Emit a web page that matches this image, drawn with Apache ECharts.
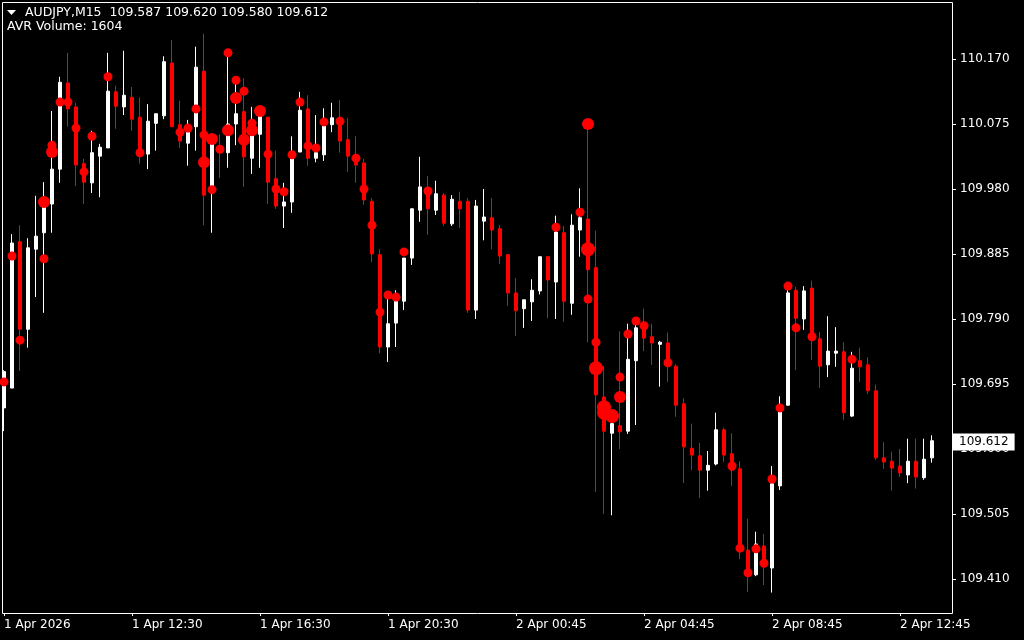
<!DOCTYPE html>
<html><head><meta charset="utf-8">
<script src="https://cdn.jsdelivr.net/npm/echarts@6/dist/echarts.min.js"></script>
<style>html,body{margin:0;padding:0;background:#000;}#c{width:1024px;height:640px;}</style>
</head><body><div id="c"></div>
<script>
const symbolName = 'AUDJPY,M15';
const indicatorText = 'AVR Volume: 1604';

const opens = [
109.660,109.689,109.903,109.775,109.892,109.916,109.958,110.009,110.135,110.100,
110.017,109.989,110.028,110.040,110.122,110.100,110.114,110.085,110.031,110.076,
110.087,110.164,110.074,110.047,110.071,110.152,109.983,110.043,110.033,110.075,
110.093,110.025,110.060,110.085,109.995,109.955,109.961,110.034,110.097,110.025,
110.030,110.074,110.079,110.052,110.024,110.018,109.962,109.884,109.749,109.784,
109.816,109.879,109.949,109.977,109.949,109.971,109.929,109.962,109.962,109.803,
109.933,109.938,109.922,109.884,109.828,109.805,109.815,109.831,109.881,109.844,
109.916,109.813,109.920,109.936,109.865,109.676,109.623,109.634,109.626,109.729,
109.780,109.764,109.753,109.755,109.721,109.666,109.601,109.590,109.569,109.578,
109.628,109.593,109.571,109.452,109.416,109.458,109.426,109.546,109.664,109.832,
109.790,109.835,109.761,109.723,109.740,109.742,109.648,109.729,109.723,109.685,
109.587,109.582,109.575,109.562,109.582,109.558,109.587];
const closes = [
109.713,109.901,109.775,109.894,109.911,109.961,110.009,110.136,110.097,110.015,
109.990,110.033,110.041,110.123,110.101,110.117,110.082,110.033,110.079,110.090,
110.166,110.071,110.050,110.063,110.158,109.971,110.047,110.034,110.075,110.090,
110.027,110.076,110.088,109.990,109.955,109.961,110.027,110.095,110.025,110.033,
110.072,110.084,110.050,110.028,110.015,109.964,109.885,109.749,109.783,109.816,
109.879,109.951,109.983,109.951,109.973,109.930,109.965,109.951,109.803,109.955,
109.939,109.920,109.882,109.828,109.802,109.818,109.832,109.881,109.847,109.917,
109.816,109.927,109.938,109.862,109.679,109.626,109.637,109.625,109.731,109.777,
109.762,109.755,109.756,109.726,109.664,109.603,109.591,109.569,109.576,109.628,
109.591,109.569,109.455,109.419,109.461,109.432,109.549,109.660,109.828,109.791,
109.831,109.764,109.721,109.743,109.743,109.653,109.718,109.720,109.685,109.587,
109.581,109.572,109.565,109.582,109.559,109.585,109.612];
const highs = [
109.715,109.914,109.927,109.908,109.970,109.990,110.094,110.144,110.179,110.106,
110.024,110.065,110.046,110.179,110.131,110.182,110.129,110.114,110.104,110.090,
110.174,110.198,110.109,110.081,110.188,110.207,110.057,110.060,110.179,110.139,
110.142,110.100,110.100,110.085,110.036,109.989,110.057,110.122,110.117,110.088,
110.098,110.106,110.110,110.084,110.057,110.024,109.967,109.892,109.825,109.832,
109.879,109.952,110.027,109.999,109.992,109.974,109.971,109.976,109.967,109.964,
109.980,109.967,109.927,109.885,109.850,109.818,109.848,109.881,109.881,109.941,
109.926,109.943,109.981,110.075,109.919,109.721,109.657,109.772,109.783,109.783,
109.805,109.783,109.758,109.770,109.724,109.674,109.637,109.609,109.597,109.653,
109.631,109.623,109.582,109.498,109.479,109.476,109.575,109.677,109.832,109.837,
109.838,109.846,109.771,109.794,109.778,109.756,109.742,109.748,109.734,109.694,
109.610,109.596,109.600,109.615,109.615,109.615,109.620];
const lows = [
109.626,109.689,109.714,109.748,109.822,109.799,109.916,109.989,110.071,109.984,
109.958,109.974,109.968,110.040,110.068,110.088,110.065,110.017,110.009,110.036,
110.082,110.071,110.040,110.014,110.036,109.927,109.916,109.996,110.011,110.044,
109.983,110.002,110.011,109.958,109.951,109.923,109.945,110.034,110.014,110.019,
110.021,110.063,110.033,110.005,109.989,109.957,109.873,109.740,109.727,109.749,
109.803,109.869,109.932,109.913,109.942,109.926,109.926,109.923,109.799,109.790,
109.905,109.892,109.870,109.809,109.765,109.777,109.787,109.826,109.791,109.790,
109.786,109.796,109.881,109.756,109.537,109.505,109.503,109.600,109.622,109.635,
109.743,109.723,109.691,109.698,109.647,109.550,109.569,109.528,109.539,109.576,
109.581,109.546,109.439,109.391,109.414,109.401,109.390,109.540,109.663,109.715,
109.774,109.730,109.689,109.705,109.720,109.642,109.647,109.698,109.680,109.584,
109.571,109.539,109.559,109.550,109.542,109.555,109.580];

// AVR Volume dots: bar index, price, volume class (1 normal, 2 high, 3 very high)
const dotBars = [0,1,2,5,5,6,6,7,8,9,10,11,13,17,22,23,24,25,25,26,26,27,28,28,29,29,30,30,31,31,32,33,34,35,36,37,38,39,40,42,44,45,46,47,48,49,50,53,69,72,73,73,73,74,74,75,75,76,77,77,78,79,80,83,91,92,93,94,95,96,97,98,99,101,106];
const dotPrices = [109.698,109.882,109.759,109.961,109.878,110.044,110.034,110.107,110.107,110.069,110.005,110.057,110.144,110.033,110.063,110.069,110.097,110.059,110.019,110.053,109.979,110.038,110.179,110.066,110.139,110.113,110.123,110.052,110.076,110.066,110.094,110.031,109.980,109.976,110.030,110.107,110.043,110.040,110.078,110.079,110.025,109.980,109.927,109.800,109.825,109.822,109.888,109.977,109.924,109.946,110.075,109.892,109.819,109.756,109.718,109.661,109.653,109.648,109.705,109.676,109.768,109.787,109.780,109.726,109.575,109.455,109.419,109.454,109.433,109.556,109.660,109.838,109.777,109.764,109.731];
const dotClass = [1,1,1,2,1,1,2,1,1,1,1,1,1,1,1,1,1,1,2,2,1,1,1,2,1,2,1,2,1,2,2,1,1,1,1,1,1,1,1,1,1,1,1,1,1,1,1,1,1,1,2,3,1,1,3,3,3,3,1,2,1,1,1,1,1,1,1,1,1,1,1,1,1,1,1];

const yTicks = [109.410,109.505,109.600,109.695,109.790,109.885,109.980,110.075,110.170];
const tickLabels = {0:'1 Apr 2026',16:'1 Apr 12:30',32:'1 Apr 16:30',48:'1 Apr 20:30',64:'2 Apr 00:45',80:'2 Apr 04:45',96:'2 Apr 08:45',112:'2 Apr 12:45'};
const lastPrice = 109.612;

const months = ['Jan','Feb','Mar','Apr','May','Jun','Jul','Aug','Sep','Oct','Nov','Dec'];
const categories = [];
(function(){
  let t = Date.UTC(2026,3,1,8,30);
  while (categories.length < opens.length) {
    const d = new Date(t);
    const hh = String(d.getUTCHours()).padStart(2,'0'), mm = String(d.getUTCMinutes()).padStart(2,'0');
    const s = d.getUTCDate()+' '+months[d.getUTCMonth()]+' '+hh+':'+mm;
    t += 15*60000;
    if (s === '2 Apr 00:00') continue;
    categories.push(s);
  }
  categories.push('', '');
})();

const ohlc = opens.map((o,i)=>[o, closes[i], lows[i], highs[i]]);
const dots = dotBars.map((b,i)=>[b, dotPrices[i], dotClass[i]]);
const sizeMap = {1:9, 2:12, 3:14};
const n = opens.length - 1;
const header = symbolName + '  ' + [opens[n],highs[n],lows[n],closes[n]].map(v=>v.toFixed(3)).join(' ');

const chart = echarts.init(document.getElementById('c'), null, {renderer:'canvas'});
chart.setOption({
  backgroundColor:'#000000',
  animation:false,
  textStyle:{fontFamily:'DejaVu Sans'},
  grid:{left:-0.5, right:72, top:2, bottom:27},
  xAxis:{
    type:'category', data:categories, boundaryGap:true,
    axisLine:{show:false},
    axisTick:{show:true, alignWithLabel:true, interval:(i)=>tickLabels[i]!==undefined, length:3, lineStyle:{color:'#ffffff'}},
    axisLabel:{interval:(i)=>tickLabels[i]!==undefined, formatter:(v,i)=>tickLabels[i]||'', color:'#ffffff', fontSize:12, align:'left', margin:6, fontFamily:'DejaVu Sans'},
    splitLine:{show:false}
  },
  yAxis:{
    type:'value', position:'right', min:109.3602, max:110.2533,
    axisLine:{show:false},
    axisTick:{show:true, customValues:yTicks, length:4, lineStyle:{color:'#ffffff'}},
    axisLabel:{customValues:yTicks, formatter:(v)=>Number(v).toFixed(3), color:'#ffffff', fontSize:12, margin:8, fontFamily:'DejaVu Sans'},
    splitLine:{show:false}
  },
  series:[
    {
      type:'candlestick', data:ohlc, barWidth:4, silent:true,
      itemStyle:{color:'#ffffff', color0:'#ff0000', borderColor:'#ffffff', borderColor0:'#ff0000', borderWidth:1},
      emphasis:{disabled:true},
      markLine:{
        symbol:'none', silent:true, animation:false, z:10,
        lineStyle:{color:'rgba(0,0,0,0)', width:1, type:'solid'},
        data:[{yAxis:lastPrice}],
        label:{show:true, position:'end', distance:1, formatter:lastPrice.toFixed(3), color:'#000000', backgroundColor:'#ffffff', padding:[3,6,2,6], fontSize:12, fontFamily:'DejaVu Sans'}
      }
    },
    {
      type:'scatter', data:dots, z:5, silent:true,
      symbol:'circle', symbolSize:(d)=>sizeMap[d[2]],
      itemStyle:{color:'#ff0000', opacity:1},
      emphasis:{disabled:true}
    }
  ],
  graphic:[
    {type:'rect', shape:{x:2.5, y:2.5, width:950, height:611}, style:{fill:null, stroke:'#ffffff', lineWidth:1}, silent:true, z:-1},
    {type:'polygon', shape:{points:[[7,10],[16,10],[11.5,15]]}, style:{fill:'#ffffff'}, silent:true},
    {type:'text', left:25, top:6, style:{text:header, fill:'#ffffff', font:'12.5px "DejaVu Sans"'}, silent:true},
    {type:'text', left:7, top:20, style:{text:indicatorText, fill:'#ffffff', font:'12.5px "DejaVu Sans"'}, silent:true}
  ]
});
</script></body></html>
